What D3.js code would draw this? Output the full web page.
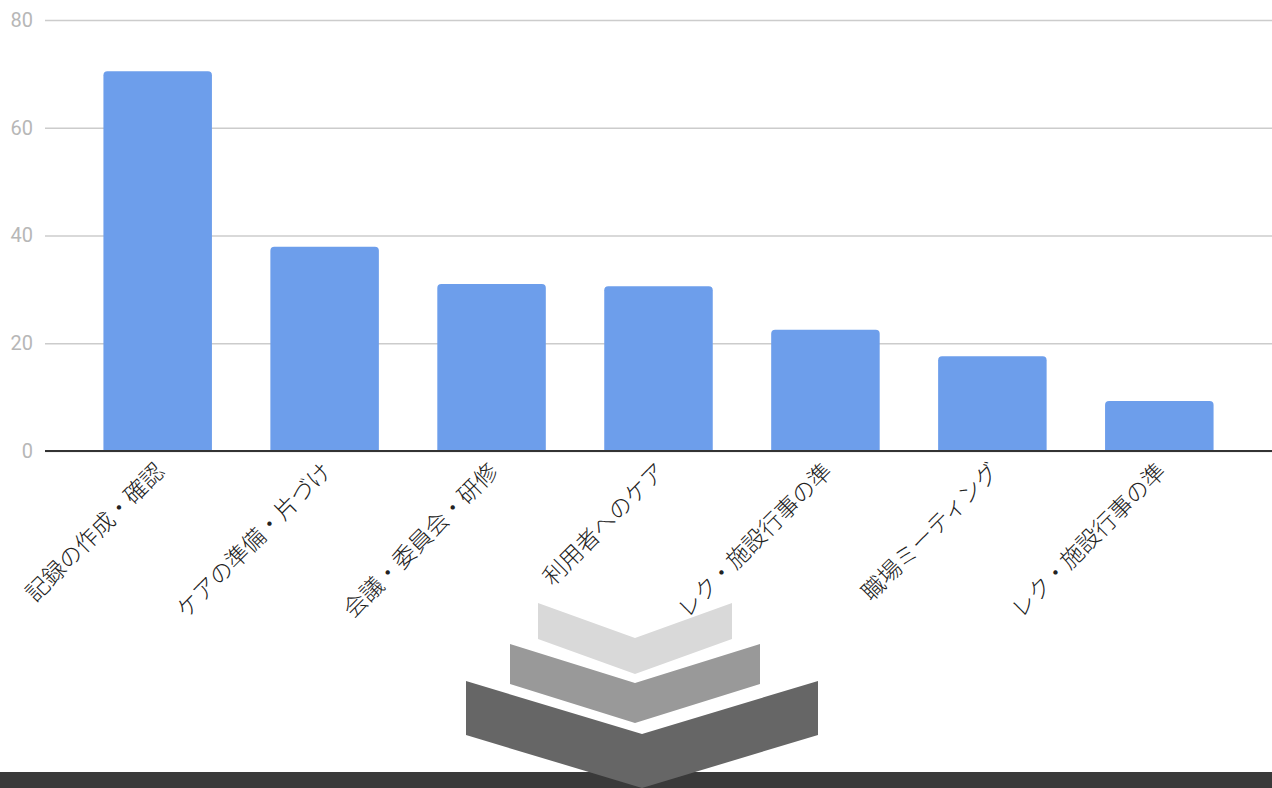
<!DOCTYPE html>
<html>
<head>
<meta charset="utf-8">
<script src="https://cdn.jsdelivr.net/npm/d3@7"></script>
<style>
  body { margin: 0; background: #fff; }
  svg { display: block; }
</style>
</head>
<body>
<script>
// data
const categories = ['記録の作成・確認', 'ケアの準備・片づけ', '会議・委員会・研修', '利用者へのケア', 'レク・施設行事の準', '職場ミーティング', 'レク・施設行事の準']
const values = [70.5, 37.9, 31.0, 30.6, 22.5, 17.6, 9.3]
const yTicks = [0, 20, 40, 60, 80]

const W = 1272, H = 788
const plot = {left: 45, right: 1272, top: 20, bottom: 451}

const svg = d3.select('body').append('svg')
    .attr('width', W)
    .attr('height', H)

const x = d3.scaleBand()
    .domain(d3.range(categories.length))
    .range([plot.left, plot.right])
    .paddingInner(0.35)
    .paddingOuter(0.35)

const y = d3.scaleLinear()
    .domain([0, 80])
    .range([plot.bottom, plot.top])

// gridlines + tick labels
const yAxis = svg.append('g')
    .attr('transform', 'translate(' + plot.left + ',0)')
    .call(d3.axisLeft(y).tickValues(yTicks).tickSize(-(plot.right - plot.left)).tickPadding(12))
yAxis.select('.domain').remove()
yAxis.selectAll('.tick line')
    .attr('stroke', '#cccccc')
    .attr('stroke-width', 1.3)
yAxis.selectAll('.tick text')
    .attr('fill', '#b7b7b7')
    .style('font-family', 'Roboto, "Noto Sans", sans-serif')
    .style('font-size', '20px')

// bars with rounded top corners
const r = 4
svg.selectAll('.bar').data(values)
    .enter()
    .append('path')
        .attr('class', 'bar')
        .attr('fill', '#6d9eeb')
        .attr('d', (d, i) => {
            const x0 = x(i), x1 = x(i) + x.bandwidth(), yt = y(d), yb = y(0)
            return 'M' + x0 + ',' + yb + 'V' + (yt + r) + 'Q' + x0 + ',' + yt + ' ' + (x0 + r) + ',' + yt
                + 'H' + (x1 - r) + 'Q' + x1 + ',' + yt + ' ' + x1 + ',' + (yt + r) + 'V' + yb + 'Z'
        })

// baseline
svg.append('line')
    .attr('x1', plot.left).attr('x2', plot.right)
    .attr('y1', y(0)).attr('y2', y(0))
    .attr('stroke', '#333333')
    .attr('stroke-width', 2)

// rotated category labels
svg.selectAll('.xlabel').data(categories)
    .enter()
    .append('text')
        .attr('class', 'xlabel')
        .attr('text-anchor', 'end')
        .attr('transform', (d, i) => 'translate(' + (x(i) + x.bandwidth() / 2 + 8) + ',' + (plot.bottom + 22) + ')rotate(-45)')
        .attr('fill', '#222')
        .style('font-family', '"Noto Sans CJK JP", sans-serif')
        .style('font-weight', 300)
        .style('font-size', '23px')
        .text(d => d)

// dark band at the bottom
svg.append('rect')
    .attr('x', 0).attr('y', 772)
    .attr('width', W).attr('height', H - 772)
    .attr('fill', '#3a3a3a')

// stacked chevrons
function chevron(cx, top, half, dip, thick, color) {
    const pts = [
        [cx - half, top], [cx, top + dip], [cx + half, top],
        [cx + half, top + thick], [cx, top + dip + thick], [cx - half, top + thick]
    ]
    svg.append('polygon')
        .attr('points', pts.map(p => p.join(',')).join(' '))
        .attr('fill', color)
}
chevron(635, 603, 97, 35, 36, '#d9d9d9')
chevron(635, 644, 125, 39, 40, '#999999')
chevron(642, 681, 176, 53, 54, '#666666')
</script>
</body>
</html>
